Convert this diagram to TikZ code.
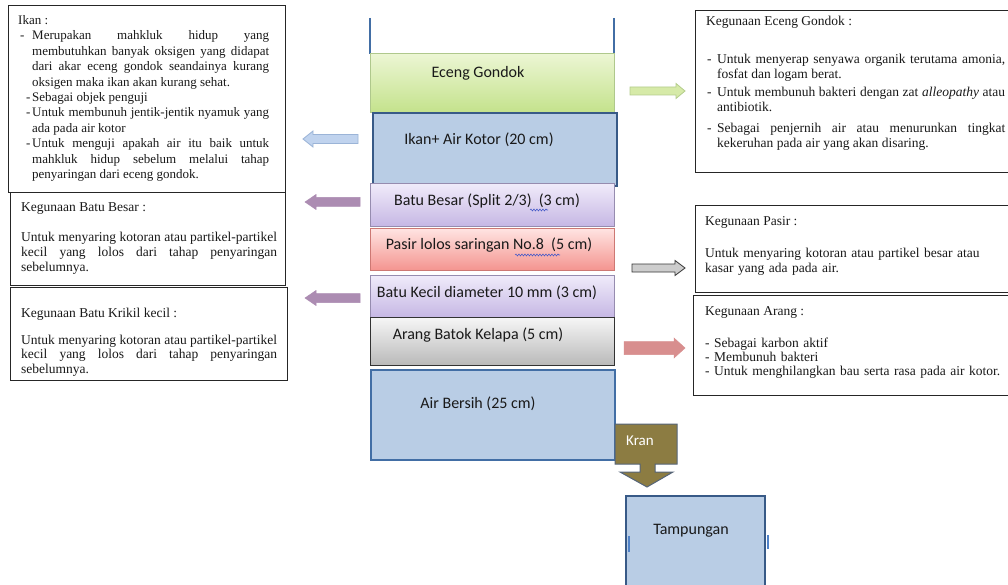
\documentclass[tikz,border=0pt]{standalone}
\usepackage{fontspec}
\setmainfont{Liberation Serif}
\newfontfamily\calfont{Carlito}
\usetikzlibrary{decorations.pathmorphing}
\definecolor{greenTop}{RGB}{236,246,212}
\definecolor{greenBot}{RGB}{196,226,140}
\definecolor{greenDraw}{RGB}{175,200,140}
\definecolor{blueFill}{RGB}{185,205,229}
\definecolor{blueDraw}{RGB}{56,90,135}
\definecolor{airDraw}{RGB}{66,110,165}
\definecolor{lavTop}{RGB}{240,235,250}
\definecolor{lavBot}{RGB}{198,183,228}
\definecolor{lavDraw}{RGB}{150,140,175}
\definecolor{pinkTop}{RGB}{255,228,226}
\definecolor{pinkBot}{RGB}{244,148,143}
\definecolor{pinkDraw}{RGB}{205,120,115}
\definecolor{grayTop}{RGB}{246,246,246}
\definecolor{grayBot}{RGB}{185,185,185}
\definecolor{grayDraw}{RGB}{50,50,50}
\definecolor{kranFill}{RGB}{140,124,66}
\definecolor{kranDraw}{RGB}{85,100,120}
\definecolor{agreenF}{RGB}{214,234,168}
\definecolor{agreenD}{RGB}{180,205,140}
\definecolor{ablueF}{RGB}{192,211,238}
\definecolor{ablueD}{RGB}{155,180,215}
\definecolor{apurple}{RGB}{172,140,178}
\definecolor{agrayF}{RGB}{205,205,205}
\definecolor{agrayD}{RGB}{55,55,55}
\definecolor{apink}{RGB}{216,142,142}
\definecolor{tickBlue}{RGB}{80,130,200}
\definecolor{squig}{RGB}{70,90,200}
\definecolor{txtc}{RGB}{25,25,25}
\newcommand\ditem[3]{\hangindent=#2\hangafter=1\noindent\makebox[#2][l]{\hspace*{#1}-}#3\par}
\newcommand\rarrow[7]{\filldraw[#7] (#1,{#3-#4}) -- ({#2-#6},{#3-#4}) -- ({#2-#6},{#3-#5}) -- (#2,#3) -- ({#2-#6},{#3+#5}) -- ({#2-#6},{#3+#4}) -- (#1,{#3+#4}) -- cycle;}
\newcommand\larrow[7]{\filldraw[#7] (#1,{#3-#4}) -- ({#2+#6},{#3-#4}) -- ({#2+#6},{#3-#5}) -- (#2,#3) -- ({#2+#6},{#3+#5}) -- ({#2+#6},{#3+#4}) -- (#1,{#3+#4}) -- cycle;}
\tikzset{
  infobox/.style={draw=black!85, line width=0.9pt, fill=white, anchor=north west, inner sep=0pt},
  layer/.style={anchor=north west, inner sep=0pt, minimum width=244pt},
  lbl/.style={font=\calfont\fontsize{16}{19}\selectfont, text=txtc, inner sep=0pt},
  stxt/.style={inner sep=0pt, anchor=base west, text=txtc, font=\fontsize{13.5}{15}\selectfont, align=justify},
  hdr/.style={inner sep=0pt, anchor=base west, text=txtc, font=\fontsize{13.5}{15}\selectfont},
}
\begin{document}
\begin{tikzpicture}[x=1pt,y=-1pt]
\useasboundingbox (0,0) rectangle (1008,585);
\fill[white] (0,0) rectangle (1008,585);

% ---- left info boxes
\node[infobox, minimum width=277pt, minimum height=187pt] (ikanbox) at (8,5) {};
\node[stxt, text width=251pt, font=\fontsize{13}{15.4}\selectfont] (ikantxt) at (18,24.5) {%
Ikan :\par
\ditem{2pt}{14pt}{Merupakan mahkluk hidup yang\linebreak membutuhkan banyak oksigen yang didapat\linebreak dari akar eceng gondok seandainya kurang\linebreak oksigen maka ikan akan kurang sehat.}%
\ditem{8pt}{14pt}{Sebagai objek penguji}%
\ditem{8pt}{14pt}{Untuk membunuh jentik-jentik nyamuk yang\linebreak ada pada air kotor}%
\ditem{8pt}{14pt}{Untuk menguji apakah air itu baik untuk\linebreak mahkluk hidup sebelum melalui tahap\linebreak penyaringan dari eceng gondok.}};

\node[infobox, minimum width=275pt, minimum height=93pt] (besarbox) at (10,192) {};
\node[hdr] (besarhdr) at (21,212) {Kegunaan Batu Besar :};
\node[stxt, text width=256pt] (besartxt) at (21,241) {Untuk menyaring kotoran atau partikel-partikel\linebreak kecil yang lolos dari tahap penyaringan\linebreak sebelumnya.};

\node[infobox, minimum width=277pt, minimum height=93pt] (kecilbox) at (10,287) {};
\node[hdr] (kecilhdr) at (21,317) {Kegunaan Batu Krikil kecil :};
\node[stxt, text width=256pt, font=\fontsize{13.5}{14.6}\selectfont] (keciltxt) at (21,344) {Untuk menyaring kotoran atau partikel-partikel\linebreak kecil yang lolos dari tahap penyaringan\linebreak sebelumnya.};

% ---- right info boxes
\node[infobox, minimum width=318pt, minimum height=162pt] (ecengbox) at (695,10) {};
\node[hdr] (ecenghdr) at (706,26) {Kegunaan Eceng Gondok :};
\node[stxt, text width=298pt, font=\fontsize{13.5}{15}\selectfont] (ecengtxt) at (707,64) {%
\ditem{0pt}{10pt}{Untuk menyerap senyawa organik terutama amonia,\linebreak fosfat dan logam berat.}%
\vspace*{2.5pt}%
\ditem{0pt}{10pt}{Untuk membunuh bakteri dengan zat \textit{alleopathy} atau\linebreak antibiotik.}%
\vspace*{6.5pt}%
\ditem{0pt}{10pt}{Sebagai penjernih air atau menurunkan tingkat\linebreak kekeruhan pada air yang akan disaring.}};

\node[infobox, minimum width=318pt, minimum height=87pt] (pasirbox) at (695,205) {};
\node[hdr] (pasirhdr) at (705,225.5) {Kegunaan Pasir :};
\node[stxt, align=left, text width=290pt] (pasirtxt) at (705,257) {Untuk menyaring kotoran atau partikel besar atau\\kasar yang ada pada air.};

\node[infobox, minimum width=320pt, minimum height=100pt] (arangbox) at (693,295) {};
\node[hdr] (aranghdr) at (705,315) {Kegunaan Arang :};
\node[stxt, align=left, text width=300pt, font=\fontsize{13.5}{14.2}\selectfont] (arangtxt) at (705,347) {%
\ditem{0pt}{9pt}{Sebagai karbon aktif}%
\ditem{0pt}{9pt}{Membunuh bakteri}%
\ditem{0pt}{9pt}{Untuk menghilangkan bau serta rasa pada air kotor.}};

% ---- column
\draw[airDraw, line width=1.6pt] (370,18) -- (370,54);
\draw[airDraw, line width=1.6pt] (614,18) -- (614,54);
\node[layer, minimum height=59pt, top color=greenTop, bottom color=greenBot, draw=greenDraw, line width=0.8pt] (eceng) at (370,53) {};
\node[layer, minimum height=73pt, fill=blueFill, draw=blueDraw, line width=1.6pt] (ikanlay) at (372,112) {};
\node[layer, minimum height=43pt, top color=lavTop, bottom color=lavBot, draw=lavDraw, line width=0.8pt] (besar) at (370,183) {};
\node[layer, minimum height=42pt, top color=pinkTop, bottom color=pinkBot, draw=pinkDraw, line width=0.8pt] (pasir) at (370,228) {};
\node[layer, minimum height=42pt, top color=lavTop, bottom color=lavBot, draw=lavDraw, line width=0.8pt] (kecil) at (370,275) {};
\node[layer, minimum height=48pt, top color=grayTop, bottom color=grayBot, draw=grayDraw, line width=0.8pt] (arang) at (370,317) {};
\node[layer, minimum height=90pt, fill=blueFill, draw=airDraw, line width=2pt] (bersih) at (370,369) {};

\node[lbl] (ecenglbl) at (478,73) {Eceng Gondok};
\node[lbl] (ikanlbl) at (479,140) {Ikan+ Air Kotor (20 cm)};
\node[lbl] (besarlbl) at (487,201) {Batu Besar (Split 2/3)\ \ (3 cm)};
\node[lbl] (pasirlbl) at (489,245) {Pasir lolos saringan No.8\ \ (5 cm)};
\node[lbl] (kecillbl) at (487,293) {Batu Kecil diameter 10 mm (3 cm)};
\node[lbl] (aranglbl) at (478,335) {Arang Batok Kelapa (5 cm)};
\node[lbl] (bersihlbl) at (478,404) {Air Bersih (25 cm)};

\draw[squig, line width=0.6pt, decorate, decoration={snake, amplitude=0.9pt, segment length=3pt}] (530,210) -- (548,210);
\draw[squig, line width=0.6pt, decorate, decoration={snake, amplitude=0.9pt, segment length=3pt}] (515,255) -- (560,255);

% ---- kran and tampungan
\filldraw[fill=kranFill, draw=kranDraw, line width=1pt] (615,424) -- (677,424) -- (677,464) -- (655,464) -- (655,472) -- (673,472) -- (647,487) -- (620,472) -- (640,472) -- (640,464) -- (615,464) -- cycle;
\node[lbl, text=white, font=\calfont\fontsize{15}{18}\selectfont] (kran) at (640,441) {Kran};
\node[anchor=north west, inner sep=0pt, minimum width=139pt, minimum height=100pt, fill=blueFill, draw=blueDraw, line width=1.6pt] (tampung) at (625,495) {};
\node[lbl] (tampunglbl) at (691,531) {Tampungan};
\draw[tickBlue, line width=1.6pt] (629,536) -- (629,552);
\draw[tickBlue, line width=1.6pt] (768,535) -- (768,549);

% ---- block arrows
\rarrow{630}{685}{91}{4}{7.5}{9}{fill=agreenF, draw=agreenD, line width=0.8pt}
\larrow{358}{303}{139}{4.5}{8}{10}{fill=ablueF, draw=ablueD, line width=0.8pt}
\larrow{360}{305}{202}{4.5}{7.5}{11}{fill=apurple, draw=apurple, line width=0.5pt}
\rarrow{632}{685}{268}{4}{7.5}{10}{fill=agrayF, draw=agrayD, line width=0.8pt}
\larrow{360}{305}{298}{4.5}{7.5}{11}{fill=apurple, draw=apurple, line width=0.5pt}
\rarrow{624}{685}{348}{6.5}{10}{11}{fill=apink, draw=apink, line width=0.5pt}
\end{tikzpicture}
\end{document}
